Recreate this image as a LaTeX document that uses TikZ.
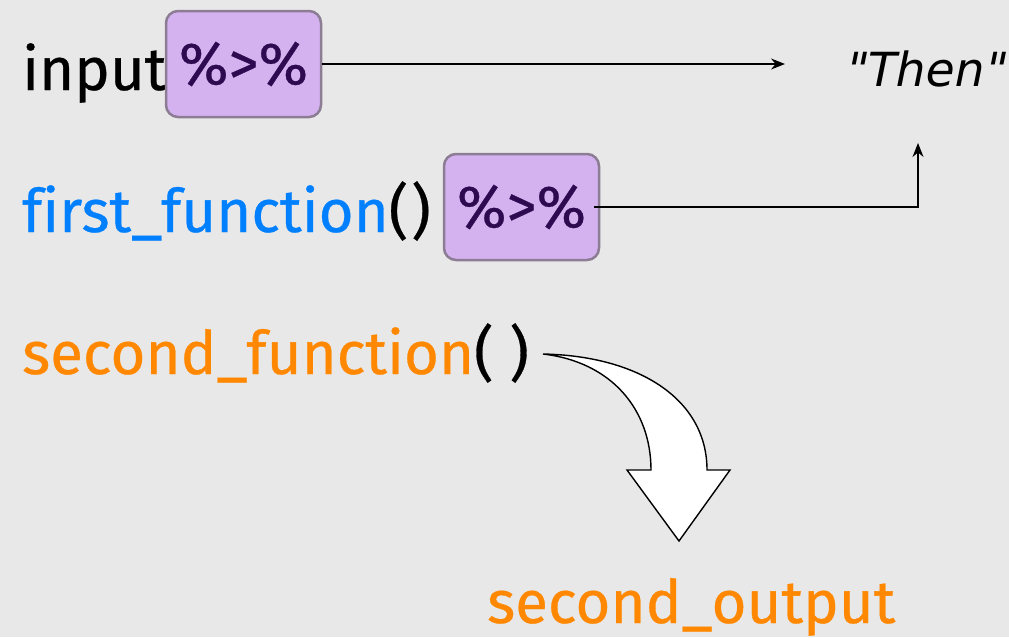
\documentclass[tikz,border=0pt]{standalone}
\usepackage{fontspec}
\setmainfont{Fira Sans}[Ligatures=NoCommon,FakeBold=0.5]
\newfontfamily\thenfont{DejaVu Sans}[FakeSlant=0.2]
\usetikzlibrary{arrows.meta}
\definecolor{bg}{RGB}{232,232,232}
\definecolor{pipefill}{RGB}{212,178,240}
\definecolor{pipeline}{RGB}{140,124,148}
\definecolor{pipetext}{RGB}{46,10,80}
\definecolor{firstblue}{RGB}{0,128,255}
\definecolor{secondorange}{RGB}{255,136,0}

\begin{document}
\begin{tikzpicture}[x=1pt,y=-1pt,
  code/.style={inner sep=0pt,anchor=base west,font=\fontsize{60}{64}\selectfont},
  pipe/.style={draw=pipeline,line width=2.5pt,fill=pipefill,rounded corners=12pt,
    minimum width=155pt,minimum height=106pt,inner sep=0pt,text=pipetext,
    font=\fontsize{60}{64}\selectfont},
  link/.style={-{Stealth[length=14pt,width=11pt]},line width=1.3pt}]
  \fill[bg] (0,0) rectangle (1009,637);
  \useasboundingbox (0,0) rectangle (1009,637);
  \node[code] (input) at (22,90) {input};
  \node[pipe] (p1) at (243.5,64) {\%>\%};
  \node[code,font=\thenfont\fontsize{47}{52}\selectfont] (then) at (843,86) {"Then"};
  \node[code,text=firstblue] (first) at (22,232) {first\_function\textcolor{black}{(\kern3pt)}};
  \node[pipe] (p2) at (521.5,207) {\%>\%};
  \node[code,text=secondorange] (second) at (22,374) {second\_function\textcolor{black}{( )}};
  \node[code,text=secondorange] (output) at (487,623) {second\_output};
  \coordinate (thenin) at (918,143);
  \coordinate (tail) at (543,354);
  \draw[link,shorten >=58pt] (p1.east) -- (p1.east -| then.west);
  \draw[link] ([xshift=-6pt]p2.east) -| (thenin);
  \draw[line width=1.4pt,fill=white,line join=miter]
    (tail) .. controls (640,356) and (707,400) .. (707,470)
    -- (730,470) -- (679,541) -- (627,470) -- (651,470)
    .. controls (651,410) and (612,362) .. (tail) -- cycle;
\end{tikzpicture}
\end{document}
